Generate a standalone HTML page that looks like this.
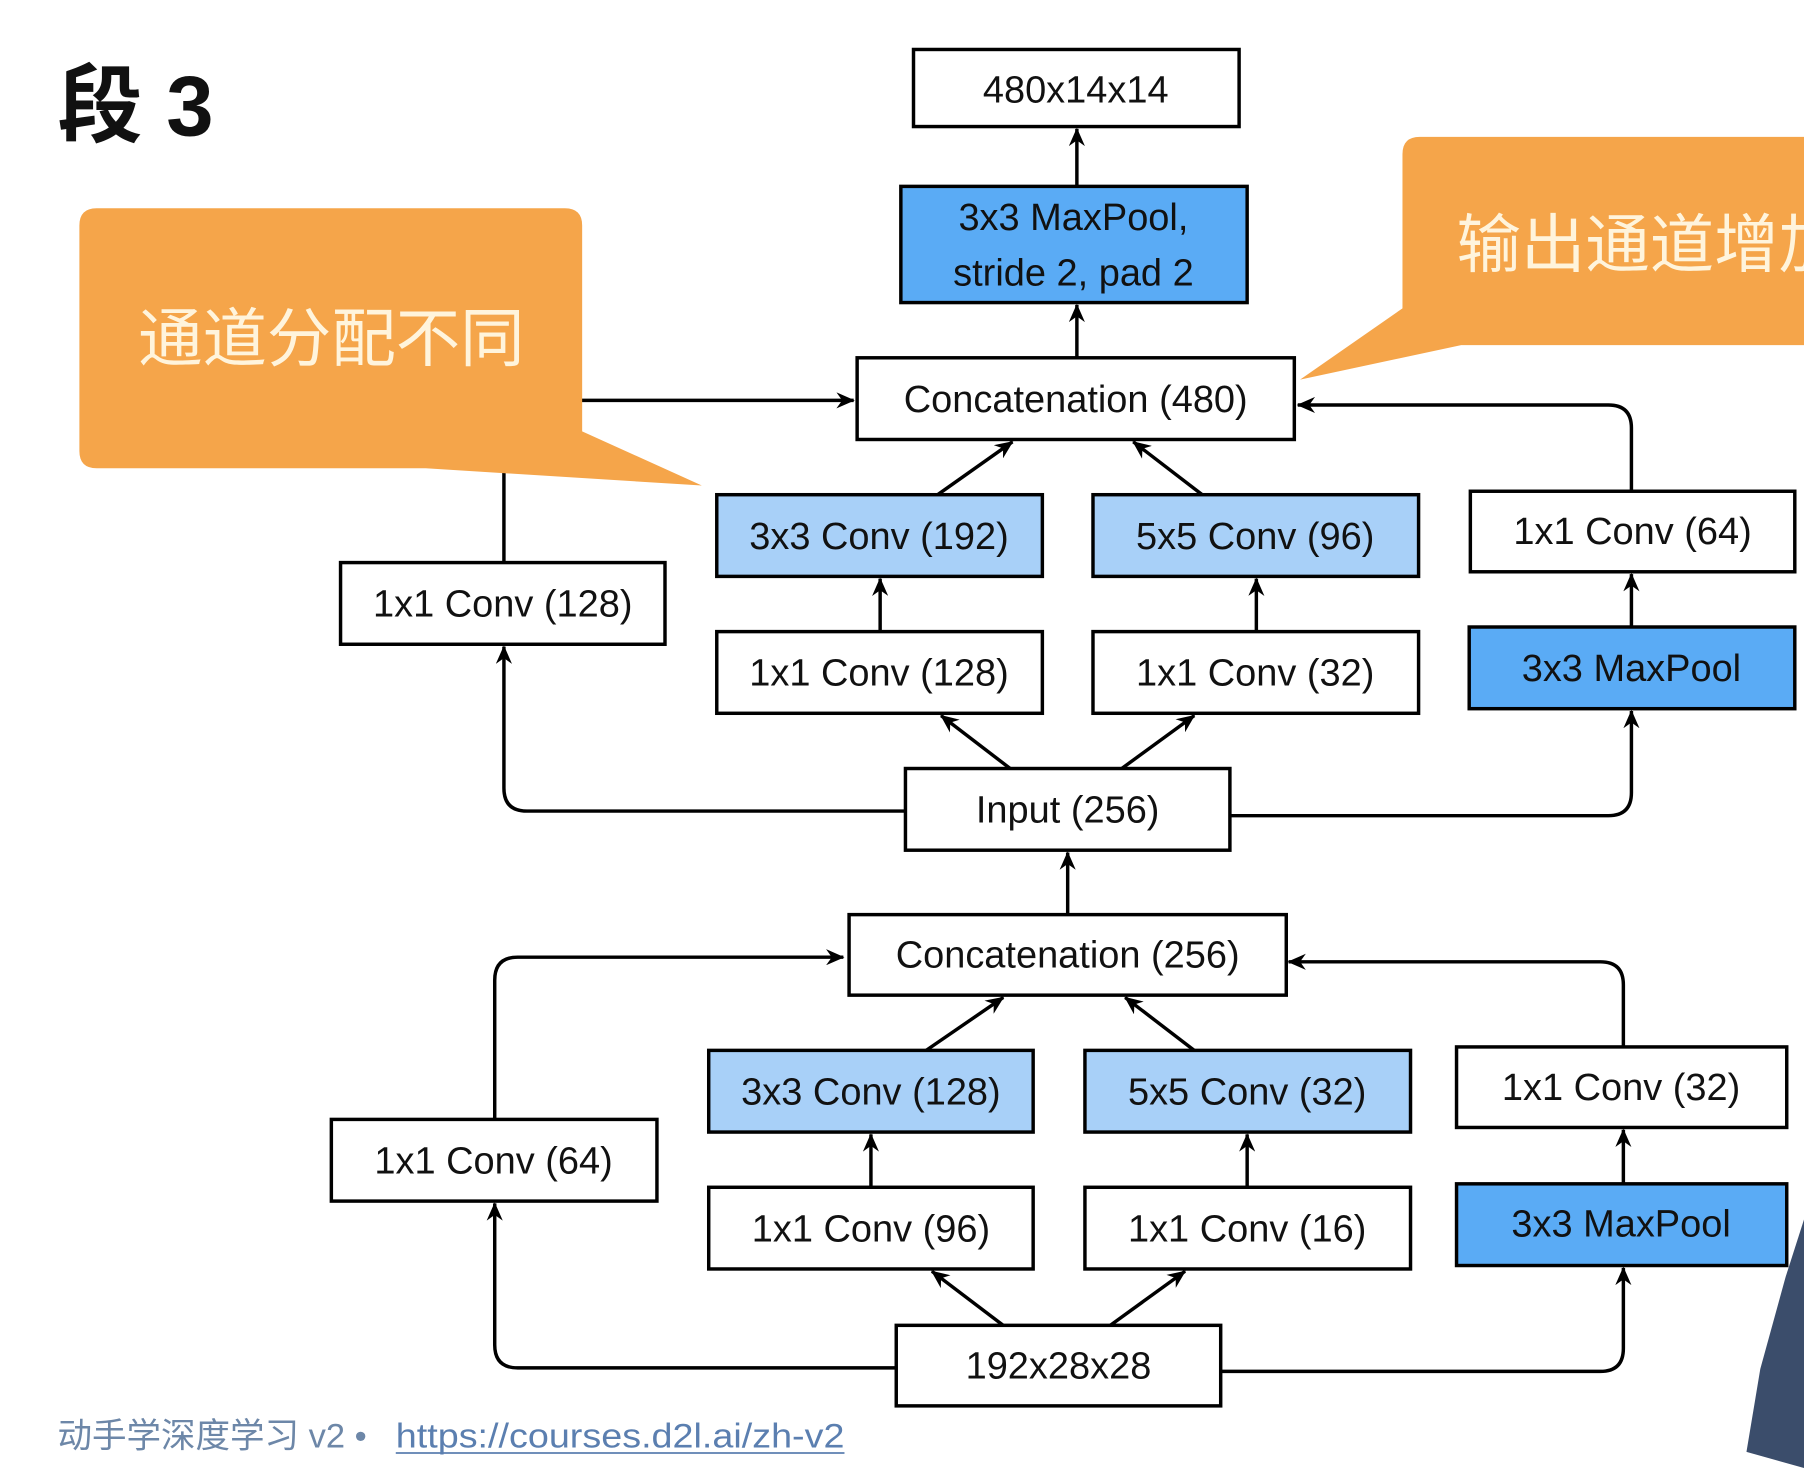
<!DOCTYPE html>
<html><head><meta charset="utf-8"><style>
html,body{margin:0;padding:0;background:#fff;}
svg{display:block;}
text{font-family:"Liberation Sans","Noto Sans CJK SC",sans-serif;}
</style></head><body>
<svg width="1804" height="1468" viewBox="0 0 1568 1276" preserveAspectRatio="none" xmlns="http://www.w3.org/2000/svg">
<defs>
<marker id="a" viewBox="0 0 16 14" refX="15" refY="7" markerWidth="16" markerHeight="14" markerUnits="userSpaceOnUse" orient="auto">
<path d="M0,0 L16,7 L0,14 L5,7 Z" fill="#000"/>
</marker>
</defs>
<rect width="1568" height="1276" fill="#fff"/>
<g stroke="#000" stroke-width="3" fill="none" marker-end="url(#a)">
<line x1="936" y1="162" x2="936" y2="112"/>
<line x1="936" y1="311" x2="936" y2="265"/>
<line x1="815" y1="430" x2="880" y2="384"/>
<line x1="1045" y1="430" x2="985" y2="384"/>
<path d="M1418,427 V372 Q1418,352 1398,352 H1128"/>
<path d="M438,489 V348 H742"/>
<line x1="765" y1="549" x2="765" y2="503"/>
<line x1="1092" y1="549" x2="1092" y2="503"/>
<line x1="1418" y1="545" x2="1418" y2="499"/>
<line x1="878" y1="668" x2="818" y2="622"/>
<line x1="975" y1="668" x2="1038" y2="622"/>
<path d="M787,705 H458 Q438,705 438,685 V562"/>
<path d="M1069,709 H1398 Q1418,709 1418,689 V618"/>
<line x1="928" y1="795" x2="928" y2="741"/>
<line x1="805" y1="913" x2="872" y2="867"/>
<line x1="1038" y1="913" x2="978" y2="867"/>
<path d="M430,973 V852 Q430,832 450,832 H733"/>
<path d="M1411,910 V856 Q1411,836 1391,836 H1120"/>
<line x1="757" y1="1032" x2="757" y2="986"/>
<line x1="1084" y1="1032" x2="1084" y2="986"/>
<line x1="1411" y1="1029" x2="1411" y2="982"/>
<line x1="872" y1="1152" x2="810" y2="1105"/>
<line x1="965" y1="1152" x2="1030" y2="1105"/>
<path d="M779,1189 H450 Q430,1189 430,1169 V1046"/>
<path d="M1061,1192 H1391 Q1411,1192 1411,1172 V1102"/>
</g>
<g stroke="#000" stroke-width="3">
<rect x="794" y="43" width="283" height="67" fill="#fff"/>
<rect x="783" y="162" width="301" height="101" fill="#5aabf5"/>
<rect x="745" y="311" width="380" height="71" fill="#fff"/>
<rect x="623" y="430" width="283" height="71" fill="#a8d0f8"/>
<rect x="950" y="430" width="283" height="71" fill="#a8d0f8"/>
<rect x="1278" y="427" width="282" height="70" fill="#fff"/>
<rect x="296" y="489" width="282" height="71" fill="#fff"/>
<rect x="623" y="549" width="283" height="71" fill="#fff"/>
<rect x="950" y="549" width="283" height="71" fill="#fff"/>
<rect x="1277" y="545" width="283" height="71" fill="#5aabf5"/>
<rect x="787" y="668" width="282" height="71" fill="#fff"/>
<rect x="738" y="795" width="380" height="70" fill="#fff"/>
<rect x="616" y="913" width="282" height="71" fill="#a8d0f8"/>
<rect x="943" y="913" width="283" height="71" fill="#a8d0f8"/>
<rect x="1266" y="910" width="287" height="70" fill="#fff"/>
<rect x="288" y="973" width="283" height="71" fill="#fff"/>
<rect x="616" y="1032" width="282" height="71" fill="#fff"/>
<rect x="943" y="1032" width="283" height="71" fill="#fff"/>
<rect x="1266" y="1029" width="287" height="71" fill="#5aabf5"/>
<rect x="779" y="1152" width="282" height="70" fill="#fff"/>
</g>
<g font-size="33" text-anchor="middle" fill="#111">
<text x="935" y="89">480x14x14</text>
<text x="933" y="200">3x3 MaxPool,</text>
<text x="933" y="248">stride 2, pad 2</text>
<text x="935" y="358">Concatenation (480)</text>
<text x="764" y="477">3x3 Conv (192)</text>
<text x="1091" y="477">5x5 Conv (96)</text>
<text x="1419" y="473">1x1 Conv (64)</text>
<text x="437" y="536">1x1 Conv (128)</text>
<text x="764" y="596">1x1 Conv (128)</text>
<text x="1091" y="596">1x1 Conv (32)</text>
<text x="1418" y="592">3x3 MaxPool</text>
<text x="928" y="715">Input (256)</text>
<text x="928" y="841">Concatenation (256)</text>
<text x="757" y="960">3x3 Conv (128)</text>
<text x="1084" y="960">5x5 Conv (32)</text>
<text x="1409" y="956">1x1 Conv (32)</text>
<text x="429" y="1020">1x1 Conv (64)</text>
<text x="757" y="1079">1x1 Conv (96)</text>
<text x="1084" y="1079">1x1 Conv (16)</text>
<text x="1409" y="1075">3x3 MaxPool</text>
<text x="920" y="1198">192x28x28</text>
</g>
<path d="M84,181 H491 Q506,181 506,196 V375 L610,422 L370,407 H84 Q69,407 69,392 V196 Q69,181 84,181 Z" fill="#f5a54a"/>
<text x="288" y="314" font-size="56" fill="#fff4dc" text-anchor="middle">通道分配不同</text>
<path d="M1234,119 H1568 V300 H1270 L1130,330 L1219,268 V134 Q1219,119 1234,119 Z" fill="#f5a54a"/>
<text x="1266" y="232" font-size="56" fill="#fff4dc">输出通道增加</text>
<text x="50" y="118" font-size="74" font-weight="bold" fill="#111">段 3</text>
<text x="50" y="1258" font-size="30" fill="#6d87a8">动手学深度学习 v2 •</text>
<text x="344" y="1258" font-size="30" fill="#5b7fb0" textLength="390" lengthAdjust="spacingAndGlyphs">https://courses.d2l.ai/zh-v2</text>
<line x1="344" y1="1263" x2="734" y2="1263" stroke="#5b7fb0" stroke-width="1.5"/>
<polygon points="1568,1060 1552,1110 1530,1190 1518,1262 1568,1276" fill="#3b4d6b"/>
</svg>
</body></html>
